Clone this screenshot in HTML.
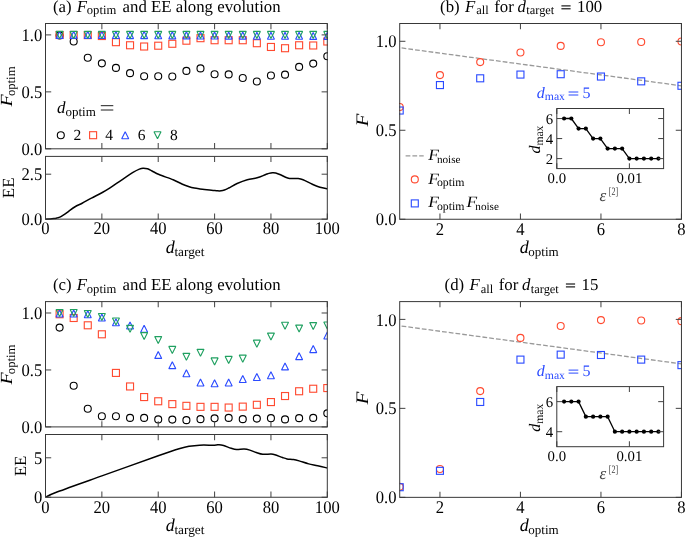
<!DOCTYPE html>
<html><head><meta charset="utf-8"><title>figure</title>
<style>
html,body{margin:0;padding:0;background:#fff;}
body{width:685px;height:537px;overflow:hidden;font-family:"Liberation Serif",serif;}
svg{display:block;font-family:"Liberation Serif",serif;text-rendering:geometricPrecision;}
</style></head><body>
<svg style="will-change:transform" width="685" height="537" viewBox="0 0 685 537">
<rect width="685" height="537" fill="#fff"/>
<g opacity="0.999">
<clipPath id="clipT0"><rect x="45.5" y="23.5" width="281.8" height="125.30000000000001"/></clipPath>
<g clip-path="url(#clipT0)">
<circle cx="59.59" cy="35.46" r="3.50" fill="none" stroke="#000" stroke-width="1.12"/>
<circle cx="73.68" cy="41.50" r="3.50" fill="none" stroke="#000" stroke-width="1.12"/>
<circle cx="87.77" cy="57.79" r="3.50" fill="none" stroke="#000" stroke-width="1.12"/>
<circle cx="101.86" cy="63.37" r="3.50" fill="none" stroke="#000" stroke-width="1.12"/>
<circle cx="115.95" cy="67.92" r="3.50" fill="none" stroke="#000" stroke-width="1.12"/>
<circle cx="130.04" cy="73.16" r="3.50" fill="none" stroke="#000" stroke-width="1.12"/>
<circle cx="144.13" cy="76.24" r="3.50" fill="none" stroke="#000" stroke-width="1.12"/>
<circle cx="158.22" cy="76.24" r="3.50" fill="none" stroke="#000" stroke-width="1.12"/>
<circle cx="172.31" cy="76.47" r="3.50" fill="none" stroke="#000" stroke-width="1.12"/>
<circle cx="186.40" cy="70.89" r="3.50" fill="none" stroke="#000" stroke-width="1.12"/>
<circle cx="200.49" cy="68.38" r="3.50" fill="none" stroke="#000" stroke-width="1.12"/>
<circle cx="214.58" cy="74.19" r="3.50" fill="none" stroke="#000" stroke-width="1.12"/>
<circle cx="228.67" cy="74.42" r="3.50" fill="none" stroke="#000" stroke-width="1.12"/>
<circle cx="242.76" cy="77.95" r="3.50" fill="none" stroke="#000" stroke-width="1.12"/>
<circle cx="256.85" cy="81.48" r="3.50" fill="none" stroke="#000" stroke-width="1.12"/>
<circle cx="270.94" cy="75.44" r="3.50" fill="none" stroke="#000" stroke-width="1.12"/>
<circle cx="285.03" cy="74.65" r="3.50" fill="none" stroke="#000" stroke-width="1.12"/>
<circle cx="299.12" cy="66.90" r="3.50" fill="none" stroke="#000" stroke-width="1.12"/>
<circle cx="313.21" cy="63.60" r="3.50" fill="none" stroke="#000" stroke-width="1.12"/>
<circle cx="327.30" cy="56.31" r="3.50" fill="none" stroke="#000" stroke-width="1.12"/>
<rect x="56.09" y="31.50" width="7.0" height="7.0" fill="none" stroke="#ff4a30" stroke-width="1.12"/>
<rect x="70.18" y="31.50" width="7.0" height="7.0" fill="none" stroke="#ff4a30" stroke-width="1.12"/>
<rect x="84.27" y="31.62" width="7.0" height="7.0" fill="none" stroke="#ff4a30" stroke-width="1.12"/>
<rect x="98.36" y="32.53" width="7.0" height="7.0" fill="none" stroke="#ff4a30" stroke-width="1.12"/>
<rect x="112.45" y="38.68" width="7.0" height="7.0" fill="none" stroke="#ff4a30" stroke-width="1.12"/>
<rect x="126.54" y="41.76" width="7.0" height="7.0" fill="none" stroke="#ff4a30" stroke-width="1.12"/>
<rect x="140.63" y="43.01" width="7.0" height="7.0" fill="none" stroke="#ff4a30" stroke-width="1.12"/>
<rect x="154.72" y="42.21" width="7.0" height="7.0" fill="none" stroke="#ff4a30" stroke-width="1.12"/>
<rect x="168.81" y="40.28" width="7.0" height="7.0" fill="none" stroke="#ff4a30" stroke-width="1.12"/>
<rect x="182.90" y="37.20" width="7.0" height="7.0" fill="none" stroke="#ff4a30" stroke-width="1.12"/>
<rect x="196.99" y="34.69" width="7.0" height="7.0" fill="none" stroke="#ff4a30" stroke-width="1.12"/>
<rect x="211.08" y="36.74" width="7.0" height="7.0" fill="none" stroke="#ff4a30" stroke-width="1.12"/>
<rect x="225.17" y="36.74" width="7.0" height="7.0" fill="none" stroke="#ff4a30" stroke-width="1.12"/>
<rect x="239.26" y="36.74" width="7.0" height="7.0" fill="none" stroke="#ff4a30" stroke-width="1.12"/>
<rect x="253.35" y="39.71" width="7.0" height="7.0" fill="none" stroke="#ff4a30" stroke-width="1.12"/>
<rect x="267.44" y="43.47" width="7.0" height="7.0" fill="none" stroke="#ff4a30" stroke-width="1.12"/>
<rect x="281.53" y="44.72" width="7.0" height="7.0" fill="none" stroke="#ff4a30" stroke-width="1.12"/>
<rect x="295.62" y="41.76" width="7.0" height="7.0" fill="none" stroke="#ff4a30" stroke-width="1.12"/>
<rect x="309.71" y="41.98" width="7.0" height="7.0" fill="none" stroke="#ff4a30" stroke-width="1.12"/>
<rect x="323.80" y="38.00" width="7.0" height="7.0" fill="none" stroke="#ff4a30" stroke-width="1.12"/>
<path d="M59.59 31.39L56.09 38.39L63.09 38.39Z" fill="none" stroke="#2b4bff" stroke-width="1.12" stroke-linejoin="bevel"/>
<path d="M73.68 31.39L70.18 38.39L77.18 38.39Z" fill="none" stroke="#2b4bff" stroke-width="1.12" stroke-linejoin="bevel"/>
<path d="M87.77 31.39L84.27 38.39L91.27 38.39Z" fill="none" stroke="#2b4bff" stroke-width="1.12" stroke-linejoin="bevel"/>
<path d="M101.86 31.39L98.36 38.39L105.36 38.39Z" fill="none" stroke="#2b4bff" stroke-width="1.12" stroke-linejoin="bevel"/>
<path d="M115.95 31.50L112.45 38.50L119.45 38.50Z" fill="none" stroke="#2b4bff" stroke-width="1.12" stroke-linejoin="bevel"/>
<path d="M130.04 31.62L126.54 38.62L133.54 38.62Z" fill="none" stroke="#2b4bff" stroke-width="1.12" stroke-linejoin="bevel"/>
<path d="M144.13 31.62L140.63 38.62L147.63 38.62Z" fill="none" stroke="#2b4bff" stroke-width="1.12" stroke-linejoin="bevel"/>
<path d="M158.22 31.73L154.72 38.73L161.72 38.73Z" fill="none" stroke="#2b4bff" stroke-width="1.12" stroke-linejoin="bevel"/>
<path d="M172.31 31.85L168.81 38.85L175.81 38.85Z" fill="none" stroke="#2b4bff" stroke-width="1.12" stroke-linejoin="bevel"/>
<path d="M186.40 31.85L182.90 38.85L189.90 38.85Z" fill="none" stroke="#2b4bff" stroke-width="1.12" stroke-linejoin="bevel"/>
<path d="M200.49 31.96L196.99 38.96L203.99 38.96Z" fill="none" stroke="#2b4bff" stroke-width="1.12" stroke-linejoin="bevel"/>
<path d="M214.58 31.96L211.08 38.96L218.08 38.96Z" fill="none" stroke="#2b4bff" stroke-width="1.12" stroke-linejoin="bevel"/>
<path d="M228.67 32.07L225.17 39.07L232.17 39.07Z" fill="none" stroke="#2b4bff" stroke-width="1.12" stroke-linejoin="bevel"/>
<path d="M242.76 32.07L239.26 39.07L246.26 39.07Z" fill="none" stroke="#2b4bff" stroke-width="1.12" stroke-linejoin="bevel"/>
<path d="M256.85 32.19L253.35 39.19L260.35 39.19Z" fill="none" stroke="#2b4bff" stroke-width="1.12" stroke-linejoin="bevel"/>
<path d="M270.94 32.19L267.44 39.19L274.44 39.19Z" fill="none" stroke="#2b4bff" stroke-width="1.12" stroke-linejoin="bevel"/>
<path d="M285.03 32.30L281.53 39.30L288.53 39.30Z" fill="none" stroke="#2b4bff" stroke-width="1.12" stroke-linejoin="bevel"/>
<path d="M299.12 32.30L295.62 39.30L302.62 39.30Z" fill="none" stroke="#2b4bff" stroke-width="1.12" stroke-linejoin="bevel"/>
<path d="M313.21 32.42L309.71 39.42L316.71 39.42Z" fill="none" stroke="#2b4bff" stroke-width="1.12" stroke-linejoin="bevel"/>
<path d="M327.30 32.42L323.80 39.42L330.80 39.42Z" fill="none" stroke="#2b4bff" stroke-width="1.12" stroke-linejoin="bevel"/>
<path d="M59.59 38.39L56.09 31.39L63.09 31.39Z" fill="none" stroke="#1fa060" stroke-width="1.12" stroke-linejoin="bevel"/>
<path d="M73.68 38.39L70.18 31.39L77.18 31.39Z" fill="none" stroke="#1fa060" stroke-width="1.12" stroke-linejoin="bevel"/>
<path d="M87.77 38.39L84.27 31.39L91.27 31.39Z" fill="none" stroke="#1fa060" stroke-width="1.12" stroke-linejoin="bevel"/>
<path d="M101.86 38.39L98.36 31.39L105.36 31.39Z" fill="none" stroke="#1fa060" stroke-width="1.12" stroke-linejoin="bevel"/>
<path d="M115.95 38.39L112.45 31.39L119.45 31.39Z" fill="none" stroke="#1fa060" stroke-width="1.12" stroke-linejoin="bevel"/>
<path d="M130.04 38.39L126.54 31.39L133.54 31.39Z" fill="none" stroke="#1fa060" stroke-width="1.12" stroke-linejoin="bevel"/>
<path d="M144.13 38.39L140.63 31.39L147.63 31.39Z" fill="none" stroke="#1fa060" stroke-width="1.12" stroke-linejoin="bevel"/>
<path d="M158.22 38.39L154.72 31.39L161.72 31.39Z" fill="none" stroke="#1fa060" stroke-width="1.12" stroke-linejoin="bevel"/>
<path d="M172.31 38.39L168.81 31.39L175.81 31.39Z" fill="none" stroke="#1fa060" stroke-width="1.12" stroke-linejoin="bevel"/>
<path d="M186.40 38.39L182.90 31.39L189.90 31.39Z" fill="none" stroke="#1fa060" stroke-width="1.12" stroke-linejoin="bevel"/>
<path d="M200.49 38.39L196.99 31.39L203.99 31.39Z" fill="none" stroke="#1fa060" stroke-width="1.12" stroke-linejoin="bevel"/>
<path d="M214.58 38.39L211.08 31.39L218.08 31.39Z" fill="none" stroke="#1fa060" stroke-width="1.12" stroke-linejoin="bevel"/>
<path d="M228.67 38.39L225.17 31.39L232.17 31.39Z" fill="none" stroke="#1fa060" stroke-width="1.12" stroke-linejoin="bevel"/>
<path d="M242.76 38.39L239.26 31.39L246.26 31.39Z" fill="none" stroke="#1fa060" stroke-width="1.12" stroke-linejoin="bevel"/>
<path d="M256.85 38.39L253.35 31.39L260.35 31.39Z" fill="none" stroke="#1fa060" stroke-width="1.12" stroke-linejoin="bevel"/>
<path d="M270.94 38.39L267.44 31.39L274.44 31.39Z" fill="none" stroke="#1fa060" stroke-width="1.12" stroke-linejoin="bevel"/>
<path d="M285.03 38.39L281.53 31.39L288.53 31.39Z" fill="none" stroke="#1fa060" stroke-width="1.12" stroke-linejoin="bevel"/>
<path d="M299.12 38.39L295.62 31.39L302.62 31.39Z" fill="none" stroke="#1fa060" stroke-width="1.12" stroke-linejoin="bevel"/>
<path d="M313.21 38.39L309.71 31.39L316.71 31.39Z" fill="none" stroke="#1fa060" stroke-width="1.12" stroke-linejoin="bevel"/>
<path d="M327.30 38.39L323.80 31.39L330.80 31.39Z" fill="none" stroke="#1fa060" stroke-width="1.12" stroke-linejoin="bevel"/>
</g>
<clipPath id="clipE0"><rect x="45.5" y="156.4" width="281.8" height="62.75"/></clipPath>
<path clip-path="url(#clipE0)" d="M45.50 219.15C46.20 219.14 48.32 219.15 49.73 219.06C51.14 218.97 52.69 218.81 53.95 218.61C55.22 218.42 56.35 218.13 57.34 217.89C58.32 217.65 58.89 217.62 59.87 217.17C60.86 216.72 61.89 216.09 63.25 215.19C64.62 214.30 66.07 213.19 68.04 211.78C70.02 210.37 72.74 208.17 75.09 206.74C77.44 205.32 79.41 204.68 82.13 203.24C84.86 201.80 88.15 199.87 91.43 198.11C94.72 196.36 98.76 194.43 101.86 192.72C104.96 191.01 106.70 190.02 110.03 187.86C113.37 185.71 117.97 182.38 121.87 179.77C125.77 177.17 130.51 173.99 133.42 172.22C136.33 170.45 137.74 169.84 139.34 169.17C140.94 168.49 141.64 168.24 143.00 168.18C144.36 168.12 146.01 168.34 147.51 168.81C149.01 169.27 150.09 170.00 152.02 170.96C153.95 171.92 155.54 173.09 159.07 174.56C162.59 176.03 169.26 178.16 173.16 179.77C177.05 181.39 179.78 183.10 182.45 184.27C185.13 185.44 187.25 186.16 189.22 186.79C191.19 187.42 192.51 187.69 194.29 188.04C196.08 188.40 198.24 188.69 199.93 188.94C201.62 189.20 202.84 189.38 204.44 189.57C206.03 189.77 208.05 189.98 209.51 190.11C210.96 190.25 211.86 190.26 213.17 190.38C214.49 190.50 216.08 190.76 217.40 190.83C218.71 190.91 219.89 190.97 221.06 190.83C222.24 190.70 223.17 190.49 224.44 190.02C225.71 189.56 226.56 189.12 228.67 188.04C230.78 186.97 234.02 184.93 237.12 183.55C240.22 182.17 243.93 180.73 247.27 179.77C250.60 178.81 254.13 178.64 257.13 177.80C260.14 176.96 263.33 175.47 265.30 174.74C267.28 174.01 267.79 173.74 268.97 173.39C270.14 173.05 271.22 172.75 272.35 172.67C273.48 172.60 274.37 172.60 275.73 172.94C277.09 173.29 278.88 174.02 280.52 174.74C282.17 175.46 284.09 176.64 285.59 177.26C287.10 177.87 288.22 178.20 289.54 178.43C290.85 178.65 292.08 178.59 293.48 178.61C294.89 178.62 296.40 178.32 297.99 178.52C299.59 178.71 300.67 178.81 303.07 179.77C305.46 180.73 309.55 183.01 312.36 184.27C315.18 185.53 317.48 186.58 319.97 187.33C322.46 188.07 326.08 188.52 327.30 188.76" fill="none" stroke="#000" stroke-width="1.5" stroke-linejoin="round"/>
<line x1="45.50" y1="23.50" x2="45.50" y2="29.20" stroke="#4a4a4a" stroke-width="1.05"/>
<line x1="45.50" y1="148.80" x2="45.50" y2="143.10" stroke="#4a4a4a" stroke-width="1.05"/>
<line x1="45.50" y1="156.40" x2="45.50" y2="162.10" stroke="#4a4a4a" stroke-width="1.05"/>
<line x1="45.50" y1="219.15" x2="45.50" y2="213.45" stroke="#4a4a4a" stroke-width="1.05"/>
<text transform="translate(45.50 234.45) scale(0.9302 1)" font-size="17.85" text-anchor="middle" fill="#000">0</text>
<line x1="101.86" y1="23.50" x2="101.86" y2="29.20" stroke="#4a4a4a" stroke-width="1.05"/>
<line x1="101.86" y1="148.80" x2="101.86" y2="143.10" stroke="#4a4a4a" stroke-width="1.05"/>
<line x1="101.86" y1="156.40" x2="101.86" y2="162.10" stroke="#4a4a4a" stroke-width="1.05"/>
<line x1="101.86" y1="219.15" x2="101.86" y2="213.45" stroke="#4a4a4a" stroke-width="1.05"/>
<text transform="translate(101.86 234.45) scale(0.9302 1)" font-size="17.85" text-anchor="middle" fill="#000">20</text>
<line x1="158.22" y1="23.50" x2="158.22" y2="29.20" stroke="#4a4a4a" stroke-width="1.05"/>
<line x1="158.22" y1="148.80" x2="158.22" y2="143.10" stroke="#4a4a4a" stroke-width="1.05"/>
<line x1="158.22" y1="156.40" x2="158.22" y2="162.10" stroke="#4a4a4a" stroke-width="1.05"/>
<line x1="158.22" y1="219.15" x2="158.22" y2="213.45" stroke="#4a4a4a" stroke-width="1.05"/>
<text transform="translate(158.22 234.45) scale(0.9302 1)" font-size="17.85" text-anchor="middle" fill="#000">40</text>
<line x1="214.58" y1="23.50" x2="214.58" y2="29.20" stroke="#4a4a4a" stroke-width="1.05"/>
<line x1="214.58" y1="148.80" x2="214.58" y2="143.10" stroke="#4a4a4a" stroke-width="1.05"/>
<line x1="214.58" y1="156.40" x2="214.58" y2="162.10" stroke="#4a4a4a" stroke-width="1.05"/>
<line x1="214.58" y1="219.15" x2="214.58" y2="213.45" stroke="#4a4a4a" stroke-width="1.05"/>
<text transform="translate(214.58 234.45) scale(0.9302 1)" font-size="17.85" text-anchor="middle" fill="#000">60</text>
<line x1="270.94" y1="23.50" x2="270.94" y2="29.20" stroke="#4a4a4a" stroke-width="1.05"/>
<line x1="270.94" y1="148.80" x2="270.94" y2="143.10" stroke="#4a4a4a" stroke-width="1.05"/>
<line x1="270.94" y1="156.40" x2="270.94" y2="162.10" stroke="#4a4a4a" stroke-width="1.05"/>
<line x1="270.94" y1="219.15" x2="270.94" y2="213.45" stroke="#4a4a4a" stroke-width="1.05"/>
<text transform="translate(270.94 234.45) scale(0.9302 1)" font-size="17.85" text-anchor="middle" fill="#000">80</text>
<line x1="327.30" y1="23.50" x2="327.30" y2="29.20" stroke="#4a4a4a" stroke-width="1.05"/>
<line x1="327.30" y1="148.80" x2="327.30" y2="143.10" stroke="#4a4a4a" stroke-width="1.05"/>
<line x1="327.30" y1="156.40" x2="327.30" y2="162.10" stroke="#4a4a4a" stroke-width="1.05"/>
<line x1="327.30" y1="219.15" x2="327.30" y2="213.45" stroke="#4a4a4a" stroke-width="1.05"/>
<text transform="translate(327.30 234.45) scale(0.9302 1)" font-size="17.85" text-anchor="middle" fill="#000">100</text>
<line x1="45.50" y1="148.80" x2="51.20" y2="148.80" stroke="#4a4a4a" stroke-width="1.05"/>
<line x1="327.30" y1="148.80" x2="321.60" y2="148.80" stroke="#4a4a4a" stroke-width="1.05"/>
<text transform="translate(42.20 154.90) scale(0.9302 1)" font-size="17.85" text-anchor="end" fill="#000">0.0</text>
<line x1="45.50" y1="91.85" x2="51.20" y2="91.85" stroke="#4a4a4a" stroke-width="1.05"/>
<line x1="327.30" y1="91.85" x2="321.60" y2="91.85" stroke="#4a4a4a" stroke-width="1.05"/>
<text transform="translate(42.20 97.95) scale(0.9302 1)" font-size="17.85" text-anchor="end" fill="#000">0.5</text>
<line x1="45.50" y1="34.89" x2="51.20" y2="34.89" stroke="#4a4a4a" stroke-width="1.05"/>
<line x1="327.30" y1="34.89" x2="321.60" y2="34.89" stroke="#4a4a4a" stroke-width="1.05"/>
<text transform="translate(42.20 40.99) scale(0.9302 1)" font-size="17.85" text-anchor="end" fill="#000">1.0</text>
<line x1="45.50" y1="219.15" x2="51.20" y2="219.15" stroke="#4a4a4a" stroke-width="1.05"/>
<line x1="327.30" y1="219.15" x2="321.60" y2="219.15" stroke="#4a4a4a" stroke-width="1.05"/>
<text transform="translate(42.20 225.25) scale(0.9302 1)" font-size="17.85" text-anchor="end" fill="#000">0.0</text>
<line x1="45.50" y1="174.20" x2="51.20" y2="174.20" stroke="#4a4a4a" stroke-width="1.05"/>
<line x1="327.30" y1="174.20" x2="321.60" y2="174.20" stroke="#4a4a4a" stroke-width="1.05"/>
<text transform="translate(42.20 180.30) scale(0.9302 1)" font-size="17.85" text-anchor="end" fill="#000">2.5</text>
<rect x="45.5" y="23.5" width="281.80" height="125.30" fill="none" stroke="#383838" stroke-width="1.0"/>
<rect x="45.5" y="156.4" width="281.80" height="62.75" fill="none" stroke="#383838" stroke-width="1.0"/>
<text x="52.90" y="12.00" font-size="16.8" fill="#000">(a)</text>
<text x="76.70" y="12.00" font-size="16.8" fill="#000" font-style="italic">F</text>
<text x="122.60" y="12.00" font-size="16.8" fill="#000">and EE along evolution</text>
<text x="86.80" y="14.40" font-size="12.6" fill="#000">optim</text>
<g transform="translate(11.60 106.40) rotate(-90)" fill="#000">
<text transform="scale(1.17 1)" font-size="17" font-style="italic">F</text>
<text x="10.3" y="3.3" font-size="12.7">optim</text>
</g>
<text x="13.80" y="187.78" font-size="17" text-anchor="middle" fill="#000"  transform="rotate(-90 13.80 187.78)">EE</text>
<text x="165.80" y="253.30" font-size="18" text-anchor="start" fill="#000" ><tspan font-style="italic">d</tspan><tspan font-size="13.3" dy="2.7" dx="-0.4">target</tspan><tspan dy="-2.7" font-size="1">&#8203;</tspan></text>
<text x="57.00" y="113.00" font-size="17" text-anchor="start" fill="#000" ><tspan font-style="italic">d</tspan><tspan font-size="13.0" dy="2.7" dx="0">optim</tspan><tspan dy="-2.7" font-size="1">&#8203;</tspan></text>
<line x1="100.80" y1="105.70" x2="113.30" y2="105.70" stroke="#000" stroke-width="0.9"/>
<line x1="100.80" y1="110.00" x2="113.30" y2="110.00" stroke="#000" stroke-width="0.9"/>
<circle cx="60.80" cy="135.20" r="3.50" fill="none" stroke="#000" stroke-width="1.12"/>
<text x="73.40" y="139.50" font-size="15.5" text-anchor="start" fill="#000" >2</text>
<rect x="89.60" y="131.70" width="7.0" height="7.0" fill="none" stroke="#ff4a30" stroke-width="1.12"/>
<text x="105.20" y="139.50" font-size="15.5" text-anchor="start" fill="#000" >4</text>
<path d="M125.20 131.70L121.70 138.70L128.70 138.70Z" fill="none" stroke="#2b4bff" stroke-width="1.12" stroke-linejoin="bevel"/>
<text x="137.80" y="139.50" font-size="15.5" text-anchor="start" fill="#000" >6</text>
<path d="M157.50 138.70L154.00 131.70L161.00 131.70Z" fill="none" stroke="#1fa060" stroke-width="1.12" stroke-linejoin="bevel"/>
<text x="170.00" y="139.50" font-size="15.5" text-anchor="start" fill="#000" >8</text>
<clipPath id="clipT278"><rect x="45.5" y="301.6" width="281.8" height="125.30000000000001"/></clipPath>
<g clip-path="url(#clipT278)">
<circle cx="59.59" cy="327.57" r="3.50" fill="none" stroke="#000" stroke-width="1.12"/>
<circle cx="73.68" cy="385.78" r="3.50" fill="none" stroke="#000" stroke-width="1.12"/>
<circle cx="87.77" cy="408.79" r="3.50" fill="none" stroke="#000" stroke-width="1.12"/>
<circle cx="101.86" cy="416.31" r="3.50" fill="none" stroke="#000" stroke-width="1.12"/>
<circle cx="115.95" cy="416.31" r="3.50" fill="none" stroke="#000" stroke-width="1.12"/>
<circle cx="130.04" cy="417.90" r="3.50" fill="none" stroke="#000" stroke-width="1.12"/>
<circle cx="144.13" cy="417.90" r="3.50" fill="none" stroke="#000" stroke-width="1.12"/>
<circle cx="158.22" cy="419.38" r="3.50" fill="none" stroke="#000" stroke-width="1.12"/>
<circle cx="172.31" cy="419.61" r="3.50" fill="none" stroke="#000" stroke-width="1.12"/>
<circle cx="186.40" cy="420.18" r="3.50" fill="none" stroke="#000" stroke-width="1.12"/>
<circle cx="200.49" cy="419.15" r="3.50" fill="none" stroke="#000" stroke-width="1.12"/>
<circle cx="214.58" cy="418.36" r="3.50" fill="none" stroke="#000" stroke-width="1.12"/>
<circle cx="228.67" cy="417.90" r="3.50" fill="none" stroke="#000" stroke-width="1.12"/>
<circle cx="242.76" cy="419.15" r="3.50" fill="none" stroke="#000" stroke-width="1.12"/>
<circle cx="256.85" cy="418.58" r="3.50" fill="none" stroke="#000" stroke-width="1.12"/>
<circle cx="270.94" cy="418.13" r="3.50" fill="none" stroke="#000" stroke-width="1.12"/>
<circle cx="285.03" cy="419.38" r="3.50" fill="none" stroke="#000" stroke-width="1.12"/>
<circle cx="299.12" cy="418.13" r="3.50" fill="none" stroke="#000" stroke-width="1.12"/>
<circle cx="313.21" cy="417.90" r="3.50" fill="none" stroke="#000" stroke-width="1.12"/>
<circle cx="327.30" cy="413.34" r="3.50" fill="none" stroke="#000" stroke-width="1.12"/>
<rect x="56.09" y="310.74" width="7.0" height="7.0" fill="none" stroke="#ff4a30" stroke-width="1.12"/>
<rect x="70.18" y="314.50" width="7.0" height="7.0" fill="none" stroke="#ff4a30" stroke-width="1.12"/>
<rect x="84.27" y="321.79" width="7.0" height="7.0" fill="none" stroke="#ff4a30" stroke-width="1.12"/>
<rect x="98.36" y="330.79" width="7.0" height="7.0" fill="none" stroke="#ff4a30" stroke-width="1.12"/>
<rect x="112.45" y="369.41" width="7.0" height="7.0" fill="none" stroke="#ff4a30" stroke-width="1.12"/>
<rect x="126.54" y="382.96" width="7.0" height="7.0" fill="none" stroke="#ff4a30" stroke-width="1.12"/>
<rect x="140.63" y="393.56" width="7.0" height="7.0" fill="none" stroke="#ff4a30" stroke-width="1.12"/>
<rect x="154.72" y="397.77" width="7.0" height="7.0" fill="none" stroke="#ff4a30" stroke-width="1.12"/>
<rect x="168.81" y="400.62" width="7.0" height="7.0" fill="none" stroke="#ff4a30" stroke-width="1.12"/>
<rect x="182.90" y="402.33" width="7.0" height="7.0" fill="none" stroke="#ff4a30" stroke-width="1.12"/>
<rect x="196.99" y="403.35" width="7.0" height="7.0" fill="none" stroke="#ff4a30" stroke-width="1.12"/>
<rect x="211.08" y="403.35" width="7.0" height="7.0" fill="none" stroke="#ff4a30" stroke-width="1.12"/>
<rect x="225.17" y="404.04" width="7.0" height="7.0" fill="none" stroke="#ff4a30" stroke-width="1.12"/>
<rect x="239.26" y="403.12" width="7.0" height="7.0" fill="none" stroke="#ff4a30" stroke-width="1.12"/>
<rect x="253.35" y="401.30" width="7.0" height="7.0" fill="none" stroke="#ff4a30" stroke-width="1.12"/>
<rect x="267.44" y="398.57" width="7.0" height="7.0" fill="none" stroke="#ff4a30" stroke-width="1.12"/>
<rect x="281.53" y="392.53" width="7.0" height="7.0" fill="none" stroke="#ff4a30" stroke-width="1.12"/>
<rect x="295.62" y="387.75" width="7.0" height="7.0" fill="none" stroke="#ff4a30" stroke-width="1.12"/>
<rect x="309.71" y="385.24" width="7.0" height="7.0" fill="none" stroke="#ff4a30" stroke-width="1.12"/>
<rect x="323.80" y="384.56" width="7.0" height="7.0" fill="none" stroke="#ff4a30" stroke-width="1.12"/>
<path d="M59.59 310.06L56.09 317.06L63.09 317.06Z" fill="none" stroke="#2b4bff" stroke-width="1.12" stroke-linejoin="bevel"/>
<path d="M73.68 310.06L70.18 317.06L77.18 317.06Z" fill="none" stroke="#2b4bff" stroke-width="1.12" stroke-linejoin="bevel"/>
<path d="M87.77 310.74L84.27 317.74L91.27 317.74Z" fill="none" stroke="#2b4bff" stroke-width="1.12" stroke-linejoin="bevel"/>
<path d="M101.86 314.05L98.36 321.05L105.36 321.05Z" fill="none" stroke="#2b4bff" stroke-width="1.12" stroke-linejoin="bevel"/>
<path d="M115.95 318.72L112.45 325.72L119.45 325.72Z" fill="none" stroke="#2b4bff" stroke-width="1.12" stroke-linejoin="bevel"/>
<path d="M130.04 322.02L126.54 329.02L133.54 329.02Z" fill="none" stroke="#2b4bff" stroke-width="1.12" stroke-linejoin="bevel"/>
<path d="M144.13 325.32L140.63 332.32L147.63 332.32Z" fill="none" stroke="#2b4bff" stroke-width="1.12" stroke-linejoin="bevel"/>
<path d="M158.22 351.41L154.72 358.41L161.72 358.41Z" fill="none" stroke="#2b4bff" stroke-width="1.12" stroke-linejoin="bevel"/>
<path d="M172.31 361.66L168.81 368.66L175.81 368.66Z" fill="none" stroke="#2b4bff" stroke-width="1.12" stroke-linejoin="bevel"/>
<path d="M186.40 369.75L182.90 376.75L189.90 376.75Z" fill="none" stroke="#2b4bff" stroke-width="1.12" stroke-linejoin="bevel"/>
<path d="M200.49 378.98L196.99 385.98L203.99 385.98Z" fill="none" stroke="#2b4bff" stroke-width="1.12" stroke-linejoin="bevel"/>
<path d="M214.58 379.77L211.08 386.77L218.08 386.77Z" fill="none" stroke="#2b4bff" stroke-width="1.12" stroke-linejoin="bevel"/>
<path d="M228.67 378.98L225.17 385.98L232.17 385.98Z" fill="none" stroke="#2b4bff" stroke-width="1.12" stroke-linejoin="bevel"/>
<path d="M242.76 375.44L239.26 382.44L246.26 382.44Z" fill="none" stroke="#2b4bff" stroke-width="1.12" stroke-linejoin="bevel"/>
<path d="M256.85 373.51L253.35 380.51L260.35 380.51Z" fill="none" stroke="#2b4bff" stroke-width="1.12" stroke-linejoin="bevel"/>
<path d="M270.94 371.69L267.44 378.69L274.44 378.69Z" fill="none" stroke="#2b4bff" stroke-width="1.12" stroke-linejoin="bevel"/>
<path d="M285.03 362.91L281.53 369.91L288.53 369.91Z" fill="none" stroke="#2b4bff" stroke-width="1.12" stroke-linejoin="bevel"/>
<path d="M299.12 352.66L295.62 359.66L302.62 359.66Z" fill="none" stroke="#2b4bff" stroke-width="1.12" stroke-linejoin="bevel"/>
<path d="M313.21 345.60L309.71 352.60L316.71 352.60Z" fill="none" stroke="#2b4bff" stroke-width="1.12" stroke-linejoin="bevel"/>
<path d="M327.30 332.04L323.80 339.04L330.80 339.04Z" fill="none" stroke="#2b4bff" stroke-width="1.12" stroke-linejoin="bevel"/>
<path d="M59.59 316.49L56.09 309.49L63.09 309.49Z" fill="none" stroke="#1fa060" stroke-width="1.12" stroke-linejoin="bevel"/>
<path d="M73.68 316.49L70.18 309.49L77.18 309.49Z" fill="none" stroke="#1fa060" stroke-width="1.12" stroke-linejoin="bevel"/>
<path d="M87.77 317.52L84.27 310.52L91.27 310.52Z" fill="none" stroke="#1fa060" stroke-width="1.12" stroke-linejoin="bevel"/>
<path d="M101.86 320.48L98.36 313.48L105.36 313.48Z" fill="none" stroke="#1fa060" stroke-width="1.12" stroke-linejoin="bevel"/>
<path d="M115.95 325.03L112.45 318.03L119.45 318.03Z" fill="none" stroke="#1fa060" stroke-width="1.12" stroke-linejoin="bevel"/>
<path d="M130.04 332.32L126.54 325.32L133.54 325.32Z" fill="none" stroke="#1fa060" stroke-width="1.12" stroke-linejoin="bevel"/>
<path d="M144.13 339.61L140.63 332.61L147.63 332.61Z" fill="none" stroke="#1fa060" stroke-width="1.12" stroke-linejoin="bevel"/>
<path d="M158.22 343.60L154.72 336.60L161.72 336.60Z" fill="none" stroke="#1fa060" stroke-width="1.12" stroke-linejoin="bevel"/>
<path d="M172.31 353.40L168.81 346.40L175.81 346.40Z" fill="none" stroke="#1fa060" stroke-width="1.12" stroke-linejoin="bevel"/>
<path d="M186.40 360.35L182.90 353.35L189.90 353.35Z" fill="none" stroke="#1fa060" stroke-width="1.12" stroke-linejoin="bevel"/>
<path d="M200.49 356.36L196.99 349.36L203.99 349.36Z" fill="none" stroke="#1fa060" stroke-width="1.12" stroke-linejoin="bevel"/>
<path d="M214.58 364.90L211.08 357.90L218.08 357.90Z" fill="none" stroke="#1fa060" stroke-width="1.12" stroke-linejoin="bevel"/>
<path d="M228.67 363.42L225.17 356.42L232.17 356.42Z" fill="none" stroke="#1fa060" stroke-width="1.12" stroke-linejoin="bevel"/>
<path d="M242.76 362.17L239.26 355.17L246.26 355.17Z" fill="none" stroke="#1fa060" stroke-width="1.12" stroke-linejoin="bevel"/>
<path d="M256.85 347.13L253.35 340.13L260.35 340.13Z" fill="none" stroke="#1fa060" stroke-width="1.12" stroke-linejoin="bevel"/>
<path d="M270.94 340.07L267.44 333.07L274.44 333.07Z" fill="none" stroke="#1fa060" stroke-width="1.12" stroke-linejoin="bevel"/>
<path d="M285.03 329.25L281.53 322.25L288.53 322.25Z" fill="none" stroke="#1fa060" stroke-width="1.12" stroke-linejoin="bevel"/>
<path d="M299.12 332.10L295.62 325.10L302.62 325.10Z" fill="none" stroke="#1fa060" stroke-width="1.12" stroke-linejoin="bevel"/>
<path d="M313.21 329.59L309.71 322.59L316.71 322.59Z" fill="none" stroke="#1fa060" stroke-width="1.12" stroke-linejoin="bevel"/>
<path d="M327.30 329.02L323.80 322.02L330.80 322.02Z" fill="none" stroke="#1fa060" stroke-width="1.12" stroke-linejoin="bevel"/>
</g>
<clipPath id="clipE278"><rect x="45.5" y="434.5" width="281.8" height="62.75"/></clipPath>
<path clip-path="url(#clipE278)" d="M45.50 497.25C47.52 496.34 48.22 495.37 57.62 491.80C67.01 488.24 85.09 481.86 101.86 475.86C118.63 469.86 145.21 460.36 158.22 455.81C171.23 451.26 174.75 450.14 179.92 448.55C185.08 446.96 185.93 446.83 189.22 446.26C192.51 445.70 195.42 445.34 199.64 445.16C203.87 444.97 211.34 445.23 214.58 445.16C217.82 445.08 217.59 444.62 219.09 444.68C220.59 444.75 221.58 444.95 223.60 445.55C225.62 446.16 229.05 447.66 231.21 448.31C233.37 448.97 234.40 449.37 236.56 449.50C238.72 449.63 241.96 449.00 244.17 449.10C246.38 449.21 247.79 449.55 249.81 450.13C251.82 450.71 254.13 451.88 256.29 452.58C258.45 453.27 260.33 454.06 262.77 454.31C265.21 454.56 268.92 454.01 270.94 454.07C272.96 454.14 272.96 454.13 274.89 454.71C276.81 455.29 280.47 456.85 282.49 457.55C284.51 458.25 285.17 458.56 287.00 458.89C288.83 459.22 291.46 459.19 293.48 459.52C295.50 459.85 296.58 460.14 299.12 460.86C301.66 461.59 305.60 463.06 308.70 463.86C311.80 464.66 314.62 464.98 317.72 465.68C320.82 466.37 325.70 467.65 327.30 468.05" fill="none" stroke="#000" stroke-width="1.5" stroke-linejoin="round"/>
<line x1="45.50" y1="301.60" x2="45.50" y2="307.30" stroke="#4a4a4a" stroke-width="1.05"/>
<line x1="45.50" y1="426.90" x2="45.50" y2="421.20" stroke="#4a4a4a" stroke-width="1.05"/>
<line x1="45.50" y1="434.50" x2="45.50" y2="440.20" stroke="#4a4a4a" stroke-width="1.05"/>
<line x1="45.50" y1="497.25" x2="45.50" y2="491.55" stroke="#4a4a4a" stroke-width="1.05"/>
<text transform="translate(45.50 512.55) scale(0.9302 1)" font-size="17.85" text-anchor="middle" fill="#000">0</text>
<line x1="101.86" y1="301.60" x2="101.86" y2="307.30" stroke="#4a4a4a" stroke-width="1.05"/>
<line x1="101.86" y1="426.90" x2="101.86" y2="421.20" stroke="#4a4a4a" stroke-width="1.05"/>
<line x1="101.86" y1="434.50" x2="101.86" y2="440.20" stroke="#4a4a4a" stroke-width="1.05"/>
<line x1="101.86" y1="497.25" x2="101.86" y2="491.55" stroke="#4a4a4a" stroke-width="1.05"/>
<text transform="translate(101.86 512.55) scale(0.9302 1)" font-size="17.85" text-anchor="middle" fill="#000">20</text>
<line x1="158.22" y1="301.60" x2="158.22" y2="307.30" stroke="#4a4a4a" stroke-width="1.05"/>
<line x1="158.22" y1="426.90" x2="158.22" y2="421.20" stroke="#4a4a4a" stroke-width="1.05"/>
<line x1="158.22" y1="434.50" x2="158.22" y2="440.20" stroke="#4a4a4a" stroke-width="1.05"/>
<line x1="158.22" y1="497.25" x2="158.22" y2="491.55" stroke="#4a4a4a" stroke-width="1.05"/>
<text transform="translate(158.22 512.55) scale(0.9302 1)" font-size="17.85" text-anchor="middle" fill="#000">40</text>
<line x1="214.58" y1="301.60" x2="214.58" y2="307.30" stroke="#4a4a4a" stroke-width="1.05"/>
<line x1="214.58" y1="426.90" x2="214.58" y2="421.20" stroke="#4a4a4a" stroke-width="1.05"/>
<line x1="214.58" y1="434.50" x2="214.58" y2="440.20" stroke="#4a4a4a" stroke-width="1.05"/>
<line x1="214.58" y1="497.25" x2="214.58" y2="491.55" stroke="#4a4a4a" stroke-width="1.05"/>
<text transform="translate(214.58 512.55) scale(0.9302 1)" font-size="17.85" text-anchor="middle" fill="#000">60</text>
<line x1="270.94" y1="301.60" x2="270.94" y2="307.30" stroke="#4a4a4a" stroke-width="1.05"/>
<line x1="270.94" y1="426.90" x2="270.94" y2="421.20" stroke="#4a4a4a" stroke-width="1.05"/>
<line x1="270.94" y1="434.50" x2="270.94" y2="440.20" stroke="#4a4a4a" stroke-width="1.05"/>
<line x1="270.94" y1="497.25" x2="270.94" y2="491.55" stroke="#4a4a4a" stroke-width="1.05"/>
<text transform="translate(270.94 512.55) scale(0.9302 1)" font-size="17.85" text-anchor="middle" fill="#000">80</text>
<line x1="327.30" y1="301.60" x2="327.30" y2="307.30" stroke="#4a4a4a" stroke-width="1.05"/>
<line x1="327.30" y1="426.90" x2="327.30" y2="421.20" stroke="#4a4a4a" stroke-width="1.05"/>
<line x1="327.30" y1="434.50" x2="327.30" y2="440.20" stroke="#4a4a4a" stroke-width="1.05"/>
<line x1="327.30" y1="497.25" x2="327.30" y2="491.55" stroke="#4a4a4a" stroke-width="1.05"/>
<text transform="translate(327.30 512.55) scale(0.9302 1)" font-size="17.85" text-anchor="middle" fill="#000">100</text>
<line x1="45.50" y1="426.90" x2="51.20" y2="426.90" stroke="#4a4a4a" stroke-width="1.05"/>
<line x1="327.30" y1="426.90" x2="321.60" y2="426.90" stroke="#4a4a4a" stroke-width="1.05"/>
<text transform="translate(42.20 433.00) scale(0.9302 1)" font-size="17.85" text-anchor="end" fill="#000">0.0</text>
<line x1="45.50" y1="369.95" x2="51.20" y2="369.95" stroke="#4a4a4a" stroke-width="1.05"/>
<line x1="327.30" y1="369.95" x2="321.60" y2="369.95" stroke="#4a4a4a" stroke-width="1.05"/>
<text transform="translate(42.20 376.05) scale(0.9302 1)" font-size="17.85" text-anchor="end" fill="#000">0.5</text>
<line x1="45.50" y1="312.99" x2="51.20" y2="312.99" stroke="#4a4a4a" stroke-width="1.05"/>
<line x1="327.30" y1="312.99" x2="321.60" y2="312.99" stroke="#4a4a4a" stroke-width="1.05"/>
<text transform="translate(42.20 319.09) scale(0.9302 1)" font-size="17.85" text-anchor="end" fill="#000">1.0</text>
<line x1="45.50" y1="497.25" x2="51.20" y2="497.25" stroke="#4a4a4a" stroke-width="1.05"/>
<line x1="327.30" y1="497.25" x2="321.60" y2="497.25" stroke="#4a4a4a" stroke-width="1.05"/>
<text transform="translate(42.20 503.35) scale(0.9302 1)" font-size="17.85" text-anchor="end" fill="#000">0</text>
<line x1="45.50" y1="457.78" x2="51.20" y2="457.78" stroke="#4a4a4a" stroke-width="1.05"/>
<line x1="327.30" y1="457.78" x2="321.60" y2="457.78" stroke="#4a4a4a" stroke-width="1.05"/>
<text transform="translate(42.20 463.88) scale(0.9302 1)" font-size="17.85" text-anchor="end" fill="#000">5</text>
<rect x="45.5" y="301.6" width="281.80" height="125.30" fill="none" stroke="#383838" stroke-width="1.0"/>
<rect x="45.5" y="434.5" width="281.80" height="62.75" fill="none" stroke="#383838" stroke-width="1.0"/>
<text x="52.90" y="290.10" font-size="16.8" fill="#000">(c)</text>
<text x="76.70" y="290.10" font-size="16.8" fill="#000" font-style="italic">F</text>
<text x="122.60" y="290.10" font-size="16.8" fill="#000">and EE along evolution</text>
<text x="86.80" y="292.50" font-size="12.6" fill="#000">optim</text>
<g transform="translate(11.60 384.50) rotate(-90)" fill="#000">
<text transform="scale(1.17 1)" font-size="17" font-style="italic">F</text>
<text x="10.3" y="3.3" font-size="12.7">optim</text>
</g>
<text x="26.40" y="465.88" font-size="17" text-anchor="middle" fill="#000"  transform="rotate(-90 26.40 465.88)">EE</text>
<text x="165.80" y="531.40" font-size="18" text-anchor="start" fill="#000" ><tspan font-style="italic">d</tspan><tspan font-size="13.3" dy="2.7" dx="-0.4">target</tspan><tspan dy="-2.7" font-size="1">&#8203;</tspan></text>
<clipPath id="clipR0"><rect x="399.7" y="23.5" width="281.75000000000006" height="195.75"/></clipPath>
<g clip-path="url(#clipR0)">
<line x1="399.70" y1="47.70" x2="681.45" y2="85.78" stroke="#999" stroke-width="1.3" stroke-dasharray="4.75 2.05" stroke-dashoffset="4.9"/>
<circle cx="399.70" cy="106.96" r="3.50" fill="none" stroke="#ff4a30" stroke-width="1.12"/>
<circle cx="439.95" cy="75.11" r="3.50" fill="none" stroke="#ff4a30" stroke-width="1.12"/>
<circle cx="480.20" cy="62.12" r="3.50" fill="none" stroke="#ff4a30" stroke-width="1.12"/>
<circle cx="520.45" cy="52.51" r="3.50" fill="none" stroke="#ff4a30" stroke-width="1.12"/>
<circle cx="560.70" cy="45.92" r="3.50" fill="none" stroke="#ff4a30" stroke-width="1.12"/>
<circle cx="600.95" cy="42.19" r="3.50" fill="none" stroke="#ff4a30" stroke-width="1.12"/>
<circle cx="641.20" cy="42.01" r="3.50" fill="none" stroke="#ff4a30" stroke-width="1.12"/>
<circle cx="681.45" cy="41.47" r="3.50" fill="none" stroke="#ff4a30" stroke-width="1.12"/>
<rect x="396.20" y="107.02" width="7.0" height="7.0" fill="none" stroke="#2b4bff" stroke-width="1.12"/>
<rect x="436.45" y="81.57" width="7.0" height="7.0" fill="none" stroke="#2b4bff" stroke-width="1.12"/>
<rect x="476.70" y="74.81" width="7.0" height="7.0" fill="none" stroke="#2b4bff" stroke-width="1.12"/>
<rect x="516.95" y="71.07" width="7.0" height="7.0" fill="none" stroke="#2b4bff" stroke-width="1.12"/>
<rect x="557.20" y="70.72" width="7.0" height="7.0" fill="none" stroke="#2b4bff" stroke-width="1.12"/>
<rect x="597.45" y="73.03" width="7.0" height="7.0" fill="none" stroke="#2b4bff" stroke-width="1.12"/>
<rect x="637.70" y="77.84" width="7.0" height="7.0" fill="none" stroke="#2b4bff" stroke-width="1.12"/>
<rect x="677.95" y="82.28" width="7.0" height="7.0" fill="none" stroke="#2b4bff" stroke-width="1.12"/>
</g>
<line x1="439.95" y1="23.50" x2="439.95" y2="29.20" stroke="#4a4a4a" stroke-width="1.05"/>
<line x1="439.95" y1="219.25" x2="439.95" y2="213.55" stroke="#4a4a4a" stroke-width="1.05"/>
<text transform="translate(439.95 234.55) scale(0.9302 1)" font-size="17.85" text-anchor="middle" fill="#000">2</text>
<line x1="520.45" y1="23.50" x2="520.45" y2="29.20" stroke="#4a4a4a" stroke-width="1.05"/>
<line x1="520.45" y1="219.25" x2="520.45" y2="213.55" stroke="#4a4a4a" stroke-width="1.05"/>
<text transform="translate(520.45 234.55) scale(0.9302 1)" font-size="17.85" text-anchor="middle" fill="#000">4</text>
<line x1="600.95" y1="23.50" x2="600.95" y2="29.20" stroke="#4a4a4a" stroke-width="1.05"/>
<line x1="600.95" y1="219.25" x2="600.95" y2="213.55" stroke="#4a4a4a" stroke-width="1.05"/>
<text transform="translate(600.95 234.55) scale(0.9302 1)" font-size="17.85" text-anchor="middle" fill="#000">6</text>
<line x1="681.45" y1="23.50" x2="681.45" y2="29.20" stroke="#4a4a4a" stroke-width="1.05"/>
<line x1="681.45" y1="219.25" x2="681.45" y2="213.55" stroke="#4a4a4a" stroke-width="1.05"/>
<text transform="translate(681.45 234.55) scale(0.9302 1)" font-size="17.85" text-anchor="middle" fill="#000">8</text>
<line x1="399.70" y1="219.25" x2="405.40" y2="219.25" stroke="#4a4a4a" stroke-width="1.05"/>
<line x1="681.45" y1="219.25" x2="675.75" y2="219.25" stroke="#4a4a4a" stroke-width="1.05"/>
<text transform="translate(396.50 225.35) scale(0.9302 1)" font-size="17.85" text-anchor="end" fill="#000">0.0</text>
<line x1="399.70" y1="130.27" x2="405.40" y2="130.27" stroke="#4a4a4a" stroke-width="1.05"/>
<line x1="681.45" y1="130.27" x2="675.75" y2="130.27" stroke="#4a4a4a" stroke-width="1.05"/>
<text transform="translate(396.50 136.37) scale(0.9302 1)" font-size="17.85" text-anchor="end" fill="#000">0.5</text>
<line x1="399.70" y1="41.30" x2="405.40" y2="41.30" stroke="#4a4a4a" stroke-width="1.05"/>
<line x1="681.45" y1="41.30" x2="675.75" y2="41.30" stroke="#4a4a4a" stroke-width="1.05"/>
<text transform="translate(396.50 47.40) scale(0.9302 1)" font-size="17.85" text-anchor="end" fill="#000">1.0</text>
<rect x="399.7" y="23.5" width="281.75" height="195.75" fill="none" stroke="#383838" stroke-width="1.0"/>
<text x="440.10" y="12.00" font-size="16.8" fill="#000">(b)</text>
<text x="464.90" y="12.00" font-size="16.8" fill="#000" font-style="italic">F</text>
<text x="494.20" y="12.00" font-size="16.8" fill="#000">for</text>
<text x="517.60" y="12.00" font-size="16.8" fill="#000" font-style="italic">d</text>
<text x="577.00" y="12.00" font-size="16.8" fill="#000">100</text>
<text x="476.20" y="14.40" font-size="12.4" fill="#000">all</text>
<text x="526.30" y="14.40" font-size="12.4" fill="#000">target</text>
<line x1="561.40" y1="5.90" x2="570.60" y2="5.90" stroke="#000" stroke-width="1.1"/>
<line x1="561.40" y1="8.80" x2="570.60" y2="8.80" stroke="#000" stroke-width="1.1"/>
<g transform="translate(368.00 126.40) rotate(-90)" fill="#000">
<text transform="scale(1.2 1)" font-size="17.6" font-style="italic">F</text>
</g>
<text x="519.70" y="253.30" font-size="18" text-anchor="start" fill="#000" ><tspan font-style="italic">d</tspan><tspan font-size="13.0" dy="2.7" dx="-0.4">optim</tspan><tspan dy="-2.7" font-size="1">&#8203;</tspan></text>
<text x="536.80" y="97.70" font-size="16" text-anchor="start" fill="#2b4bff" ><tspan font-style="italic">d</tspan><tspan font-size="11.7" dy="2.7" dx="0">max</tspan><tspan dy="-2.7" font-size="1">&#8203;</tspan></text>
<line x1="568.60" y1="92.00" x2="578.30" y2="92.00" stroke="#2b4bff" stroke-width="1.0"/>
<line x1="568.60" y1="95.00" x2="578.30" y2="95.00" stroke="#2b4bff" stroke-width="1.0"/>
<text x="582.60" y="97.70" font-size="16" text-anchor="start" fill="#2b4bff" >5</text>
<rect x="556.8" y="108.5" width="106.80" height="60.10" fill="#fff" stroke="none"/>
<polyline points="564.06,118.52 571.32,118.52 578.58,128.53 585.84,128.53 593.10,138.55 600.36,138.55 607.62,148.57 614.88,148.57 622.14,148.57 629.40,158.58 636.66,158.58 643.92,158.58 651.18,158.58 658.44,158.58" fill="none" stroke="#000" stroke-width="1.3"/>
<circle cx="564.06" cy="118.52" r="2.1" fill="#000"/>
<circle cx="571.32" cy="118.52" r="2.1" fill="#000"/>
<circle cx="578.58" cy="128.53" r="2.1" fill="#000"/>
<circle cx="585.84" cy="128.53" r="2.1" fill="#000"/>
<circle cx="593.10" cy="138.55" r="2.1" fill="#000"/>
<circle cx="600.36" cy="138.55" r="2.1" fill="#000"/>
<circle cx="607.62" cy="148.57" r="2.1" fill="#000"/>
<circle cx="614.88" cy="148.57" r="2.1" fill="#000"/>
<circle cx="622.14" cy="148.57" r="2.1" fill="#000"/>
<circle cx="629.40" cy="158.58" r="2.1" fill="#000"/>
<circle cx="636.66" cy="158.58" r="2.1" fill="#000"/>
<circle cx="643.92" cy="158.58" r="2.1" fill="#000"/>
<circle cx="651.18" cy="158.58" r="2.1" fill="#000"/>
<circle cx="658.44" cy="158.58" r="2.1" fill="#000"/>
<line x1="556.80" y1="108.50" x2="556.80" y2="113.90" stroke="#4a4a4a" stroke-width="1.05"/>
<line x1="556.80" y1="168.60" x2="556.80" y2="163.20" stroke="#4a4a4a" stroke-width="1.05"/>
<text x="556.80" y="183.30" font-size="14.8" text-anchor="middle" fill="#000" >0.0</text>
<line x1="629.40" y1="108.50" x2="629.40" y2="113.90" stroke="#4a4a4a" stroke-width="1.05"/>
<line x1="629.40" y1="168.60" x2="629.40" y2="163.20" stroke="#4a4a4a" stroke-width="1.05"/>
<text x="629.40" y="183.30" font-size="14.8" text-anchor="middle" fill="#000" >0.01</text>
<line x1="556.80" y1="158.58" x2="562.20" y2="158.58" stroke="#4a4a4a" stroke-width="1.05"/>
<line x1="663.60" y1="158.58" x2="658.20" y2="158.58" stroke="#4a4a4a" stroke-width="1.05"/>
<text x="553.20" y="164.08" font-size="14.8" text-anchor="end" fill="#000" >2</text>
<line x1="556.80" y1="138.55" x2="562.20" y2="138.55" stroke="#4a4a4a" stroke-width="1.05"/>
<line x1="663.60" y1="138.55" x2="658.20" y2="138.55" stroke="#4a4a4a" stroke-width="1.05"/>
<text x="553.20" y="144.05" font-size="14.8" text-anchor="end" fill="#000" >4</text>
<line x1="556.80" y1="118.52" x2="562.20" y2="118.52" stroke="#4a4a4a" stroke-width="1.05"/>
<line x1="663.60" y1="118.52" x2="658.20" y2="118.52" stroke="#4a4a4a" stroke-width="1.05"/>
<text x="553.20" y="124.02" font-size="14.8" text-anchor="end" fill="#000" >6</text>
<rect x="556.8" y="108.5" width="106.80" height="60.10" fill="none" stroke="#383838" stroke-width="1.0"/>
<text x="599.60" y="200.70" font-size="17" text-anchor="start" fill="#444" ><tspan font-style="italic">ε</tspan></text>
<text x="608.70" y="195.00" font-size="11.2" text-anchor="start" fill="#444"  textLength="9.4" lengthAdjust="spacingAndGlyphs">[2]</text>
<text x="539.60" y="153.60" font-size="16" text-anchor="start" fill="#000"  transform="rotate(-90 539.60 153.60)"><tspan font-style="italic">d</tspan><tspan font-size="11.6" dy="3.0" dx="0">max</tspan><tspan dy="-3.0" font-size="1">&#8203;</tspan></text>
<line x1="405.6" y1="155.9" x2="423.7" y2="155.9" stroke="#999" stroke-width="1.3" stroke-dasharray="4.75 2.05"/>
<g transform="translate(428.30 160.40) rotate(0)" fill="#000">
<text transform="scale(1.1 1)" font-size="15.8" font-style="italic">F</text>
<text x="8.6" y="2.7" font-size="11.2">noise</text>
</g>
<circle cx="414.80" cy="179.40" r="3.50" fill="none" stroke="#ff4a30" stroke-width="1.12"/>
<g transform="translate(428.30 183.60) rotate(0)" fill="#000">
<text transform="scale(1.1 1)" font-size="15.8" font-style="italic">F</text>
<text x="8.6" y="2.7" font-size="11.8">optim</text>
</g>
<rect x="411.30" y="199.90" width="7.0" height="7.0" fill="none" stroke="#2b4bff" stroke-width="1.12"/>
<g transform="translate(428.30 207.40) rotate(0)" fill="#000">
<text transform="scale(1.1 1)" font-size="15.8" font-style="italic">F</text>
<text x="8.6" y="2.7" font-size="11.8">optim</text>
</g>
<g transform="translate(466.60 207.40) rotate(0)" fill="#000">
<text transform="scale(1.1 1)" font-size="15.8" font-style="italic">F</text>
<text x="8.7" y="2.7" font-size="11.2">noise</text>
</g>
<clipPath id="clipR278"><rect x="399.7" y="301.6" width="281.75000000000006" height="195.75"/></clipPath>
<g clip-path="url(#clipR278)">
<line x1="399.70" y1="325.80" x2="681.45" y2="363.88" stroke="#999" stroke-width="1.3" stroke-dasharray="4.75 2.05" stroke-dashoffset="4.9"/>
<circle cx="399.70" cy="486.85" r="3.50" fill="none" stroke="#ff4a30" stroke-width="1.12"/>
<circle cx="439.95" cy="469.06" r="3.50" fill="none" stroke="#ff4a30" stroke-width="1.12"/>
<circle cx="480.20" cy="391.11" r="3.50" fill="none" stroke="#ff4a30" stroke-width="1.12"/>
<circle cx="520.45" cy="337.90" r="3.50" fill="none" stroke="#ff4a30" stroke-width="1.12"/>
<circle cx="560.70" cy="325.98" r="3.50" fill="none" stroke="#ff4a30" stroke-width="1.12"/>
<circle cx="600.95" cy="320.11" r="3.50" fill="none" stroke="#ff4a30" stroke-width="1.12"/>
<circle cx="641.20" cy="320.46" r="3.50" fill="none" stroke="#ff4a30" stroke-width="1.12"/>
<circle cx="681.45" cy="321.18" r="3.50" fill="none" stroke="#ff4a30" stroke-width="1.12"/>
<rect x="396.20" y="483.71" width="7.0" height="7.0" fill="none" stroke="#2b4bff" stroke-width="1.12"/>
<rect x="436.45" y="467.33" width="7.0" height="7.0" fill="none" stroke="#2b4bff" stroke-width="1.12"/>
<rect x="476.70" y="398.47" width="7.0" height="7.0" fill="none" stroke="#2b4bff" stroke-width="1.12"/>
<rect x="516.95" y="356.11" width="7.0" height="7.0" fill="none" stroke="#2b4bff" stroke-width="1.12"/>
<rect x="557.20" y="351.13" width="7.0" height="7.0" fill="none" stroke="#2b4bff" stroke-width="1.12"/>
<rect x="597.45" y="351.49" width="7.0" height="7.0" fill="none" stroke="#2b4bff" stroke-width="1.12"/>
<rect x="637.70" y="356.11" width="7.0" height="7.0" fill="none" stroke="#2b4bff" stroke-width="1.12"/>
<rect x="677.95" y="361.63" width="7.0" height="7.0" fill="none" stroke="#2b4bff" stroke-width="1.12"/>
</g>
<line x1="439.95" y1="301.60" x2="439.95" y2="307.30" stroke="#4a4a4a" stroke-width="1.05"/>
<line x1="439.95" y1="497.35" x2="439.95" y2="491.65" stroke="#4a4a4a" stroke-width="1.05"/>
<text transform="translate(439.95 512.65) scale(0.9302 1)" font-size="17.85" text-anchor="middle" fill="#000">2</text>
<line x1="520.45" y1="301.60" x2="520.45" y2="307.30" stroke="#4a4a4a" stroke-width="1.05"/>
<line x1="520.45" y1="497.35" x2="520.45" y2="491.65" stroke="#4a4a4a" stroke-width="1.05"/>
<text transform="translate(520.45 512.65) scale(0.9302 1)" font-size="17.85" text-anchor="middle" fill="#000">4</text>
<line x1="600.95" y1="301.60" x2="600.95" y2="307.30" stroke="#4a4a4a" stroke-width="1.05"/>
<line x1="600.95" y1="497.35" x2="600.95" y2="491.65" stroke="#4a4a4a" stroke-width="1.05"/>
<text transform="translate(600.95 512.65) scale(0.9302 1)" font-size="17.85" text-anchor="middle" fill="#000">6</text>
<line x1="681.45" y1="301.60" x2="681.45" y2="307.30" stroke="#4a4a4a" stroke-width="1.05"/>
<line x1="681.45" y1="497.35" x2="681.45" y2="491.65" stroke="#4a4a4a" stroke-width="1.05"/>
<text transform="translate(681.45 512.65) scale(0.9302 1)" font-size="17.85" text-anchor="middle" fill="#000">8</text>
<line x1="399.70" y1="497.35" x2="405.40" y2="497.35" stroke="#4a4a4a" stroke-width="1.05"/>
<line x1="681.45" y1="497.35" x2="675.75" y2="497.35" stroke="#4a4a4a" stroke-width="1.05"/>
<text transform="translate(396.50 503.45) scale(0.9302 1)" font-size="17.85" text-anchor="end" fill="#000">0.0</text>
<line x1="399.70" y1="408.37" x2="405.40" y2="408.37" stroke="#4a4a4a" stroke-width="1.05"/>
<line x1="681.45" y1="408.37" x2="675.75" y2="408.37" stroke="#4a4a4a" stroke-width="1.05"/>
<text transform="translate(396.50 414.47) scale(0.9302 1)" font-size="17.85" text-anchor="end" fill="#000">0.5</text>
<line x1="399.70" y1="319.40" x2="405.40" y2="319.40" stroke="#4a4a4a" stroke-width="1.05"/>
<line x1="681.45" y1="319.40" x2="675.75" y2="319.40" stroke="#4a4a4a" stroke-width="1.05"/>
<text transform="translate(396.50 325.50) scale(0.9302 1)" font-size="17.85" text-anchor="end" fill="#000">1.0</text>
<rect x="399.7" y="301.6" width="281.75" height="195.75" fill="none" stroke="#383838" stroke-width="1.0"/>
<text x="444.60" y="290.10" font-size="16.8" fill="#000">(d)</text>
<text x="469.40" y="290.10" font-size="16.8" fill="#000" font-style="italic">F</text>
<text x="498.70" y="290.10" font-size="16.8" fill="#000">for</text>
<text x="522.10" y="290.10" font-size="16.8" fill="#000" font-style="italic">d</text>
<text x="581.50" y="290.10" font-size="16.8" fill="#000">15</text>
<text x="480.70" y="292.50" font-size="12.4" fill="#000">all</text>
<text x="530.80" y="292.50" font-size="12.4" fill="#000">target</text>
<line x1="565.90" y1="284.00" x2="575.10" y2="284.00" stroke="#000" stroke-width="1.1"/>
<line x1="565.90" y1="286.90" x2="575.10" y2="286.90" stroke="#000" stroke-width="1.1"/>
<g transform="translate(368.00 404.50) rotate(-90)" fill="#000">
<text transform="scale(1.2 1)" font-size="17.6" font-style="italic">F</text>
</g>
<text x="519.70" y="531.40" font-size="18" text-anchor="start" fill="#000" ><tspan font-style="italic">d</tspan><tspan font-size="13.0" dy="2.7" dx="-0.4">optim</tspan><tspan dy="-2.7" font-size="1">&#8203;</tspan></text>
<text x="536.80" y="375.80" font-size="16" text-anchor="start" fill="#2b4bff" ><tspan font-style="italic">d</tspan><tspan font-size="11.7" dy="2.7" dx="0">max</tspan><tspan dy="-2.7" font-size="1">&#8203;</tspan></text>
<line x1="568.60" y1="370.10" x2="578.30" y2="370.10" stroke="#2b4bff" stroke-width="1.0"/>
<line x1="568.60" y1="373.10" x2="578.30" y2="373.10" stroke="#2b4bff" stroke-width="1.0"/>
<text x="582.60" y="375.80" font-size="16" text-anchor="start" fill="#2b4bff" >5</text>
<rect x="556.8" y="386.6" width="106.80" height="60.10" fill="#fff" stroke="none"/>
<polyline points="564.06,401.62 571.32,401.62 578.58,401.62 585.84,416.65 593.10,416.65 600.36,416.65 607.62,416.65 614.88,431.68 622.14,431.68 629.40,431.68 636.66,431.68 643.92,431.68 651.18,431.68 658.44,431.68" fill="none" stroke="#000" stroke-width="1.3"/>
<circle cx="564.06" cy="401.62" r="2.1" fill="#000"/>
<circle cx="571.32" cy="401.62" r="2.1" fill="#000"/>
<circle cx="578.58" cy="401.62" r="2.1" fill="#000"/>
<circle cx="585.84" cy="416.65" r="2.1" fill="#000"/>
<circle cx="593.10" cy="416.65" r="2.1" fill="#000"/>
<circle cx="600.36" cy="416.65" r="2.1" fill="#000"/>
<circle cx="607.62" cy="416.65" r="2.1" fill="#000"/>
<circle cx="614.88" cy="431.68" r="2.1" fill="#000"/>
<circle cx="622.14" cy="431.68" r="2.1" fill="#000"/>
<circle cx="629.40" cy="431.68" r="2.1" fill="#000"/>
<circle cx="636.66" cy="431.68" r="2.1" fill="#000"/>
<circle cx="643.92" cy="431.68" r="2.1" fill="#000"/>
<circle cx="651.18" cy="431.68" r="2.1" fill="#000"/>
<circle cx="658.44" cy="431.68" r="2.1" fill="#000"/>
<line x1="556.80" y1="386.60" x2="556.80" y2="392.00" stroke="#4a4a4a" stroke-width="1.05"/>
<line x1="556.80" y1="446.70" x2="556.80" y2="441.30" stroke="#4a4a4a" stroke-width="1.05"/>
<text x="556.80" y="461.40" font-size="14.8" text-anchor="middle" fill="#000" >0.0</text>
<line x1="629.40" y1="386.60" x2="629.40" y2="392.00" stroke="#4a4a4a" stroke-width="1.05"/>
<line x1="629.40" y1="446.70" x2="629.40" y2="441.30" stroke="#4a4a4a" stroke-width="1.05"/>
<text x="629.40" y="461.40" font-size="14.8" text-anchor="middle" fill="#000" >0.01</text>
<line x1="556.80" y1="431.68" x2="562.20" y2="431.68" stroke="#4a4a4a" stroke-width="1.05"/>
<line x1="663.60" y1="431.68" x2="658.20" y2="431.68" stroke="#4a4a4a" stroke-width="1.05"/>
<text x="553.20" y="437.18" font-size="14.8" text-anchor="end" fill="#000" >4</text>
<line x1="556.80" y1="401.62" x2="562.20" y2="401.62" stroke="#4a4a4a" stroke-width="1.05"/>
<line x1="663.60" y1="401.62" x2="658.20" y2="401.62" stroke="#4a4a4a" stroke-width="1.05"/>
<text x="553.20" y="407.12" font-size="14.8" text-anchor="end" fill="#000" >6</text>
<rect x="556.8" y="386.6" width="106.80" height="60.10" fill="none" stroke="#383838" stroke-width="1.0"/>
<text x="599.60" y="478.80" font-size="17" text-anchor="start" fill="#444" ><tspan font-style="italic">ε</tspan></text>
<text x="608.70" y="473.10" font-size="11.2" text-anchor="start" fill="#444"  textLength="9.4" lengthAdjust="spacingAndGlyphs">[2]</text>
<text x="539.60" y="431.70" font-size="16" text-anchor="start" fill="#000"  transform="rotate(-90 539.60 431.70)"><tspan font-style="italic">d</tspan><tspan font-size="11.6" dy="3.0" dx="0">max</tspan><tspan dy="-3.0" font-size="1">&#8203;</tspan></text>
</g>
</svg>
</body></html>
